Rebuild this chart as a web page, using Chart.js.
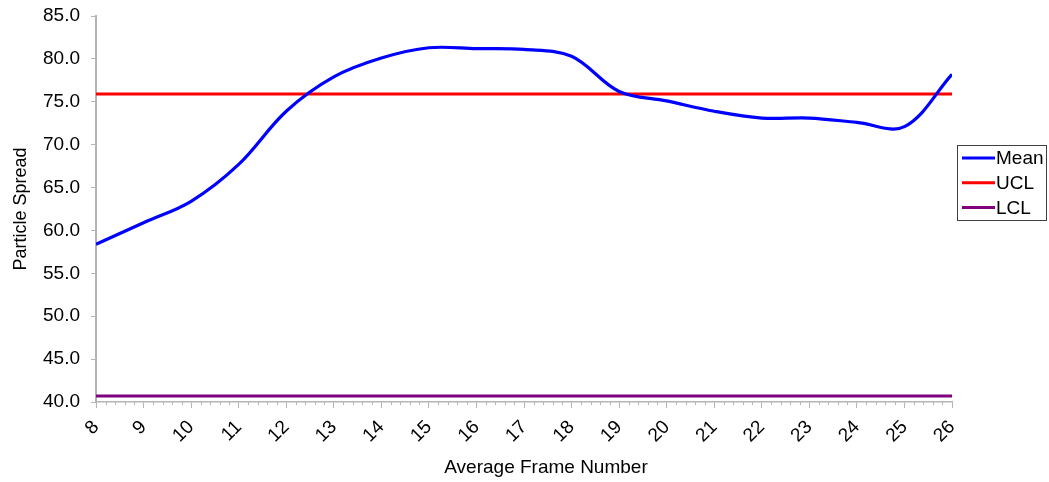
<!DOCTYPE html>
<html>
<head>
<meta charset="utf-8">
<script src="https://cdn.jsdelivr.net/npm/chart.js@4/dist/chart.umd.min.js"></script>
<style>
  html, body { margin: 0; padding: 0; background: #ffffff; }
  #wrap { width: 1049px; height: 482px; }
</style>
</head>
<body>
<div id="wrap"><canvas id="c" width="1049" height="482"></canvas></div>
<script>
// ---- data ----
const frames    = [8, 9, 10, 11, 12, 13, 14, 15, 16, 17, 18, 19, 20, 21, 22, 23, 24, 25, 26];
const meanVals  = [58.4, 60.9, 63.4, 67.7, 73.9, 77.9, 80.1, 81.3, 81.2, 81.1, 80.3, 76.2, 75.1, 73.9, 73.1, 73.1, 72.6, 72.1, 78.2];
const uclValue  = 75.9;
const lclValue  = 40.7;
const seriesNames  = ['Mean', 'UCL', 'LCL'];
const seriesColors = ['#0000ff', '#ff0000', '#800080'];
const yTicks = [40, 45, 50, 55, 60, 65, 70, 75, 80, 85];
const xMin = 8, xMax = 26, minorStep = 0.2;
const xTitle = 'Average Frame Number';
const yTitle = 'Particle Spread';

const FONT = "'Liberation Sans', Arial, sans-serif";
const axisGrey = '#b4b4b4';

const meanData = frames.map((f, i) => ({ x: f, y: meanVals[i] }));
const uclData = [{ x: xMin, y: uclValue }, { x: xMax, y: uclValue }];
const lclData = [{ x: xMin, y: lclValue }, { x: xMax, y: lclValue }];

const minorTicksPlugin = {
  id: 'minorTicks',
  afterDraw(chart) {
    const xs = chart.scales.x;
    const ctx = chart.ctx;
    ctx.save();
    ctx.strokeStyle = axisGrey;
    ctx.lineWidth = 1;
    const n = Math.round((xMax - xMin) / minorStep);
    for (let i = 0; i <= n; i++) {
      const v = xMin + i * minorStep;
      if (Math.abs(v - Math.round(v)) < 1e-6) continue;
      const px = Math.round(xs.getPixelForValue(v)) + 0.5;
      ctx.beginPath();
      ctx.moveTo(px, xs.top);
      ctx.lineTo(px, xs.top + 3);
      ctx.stroke();
    }
    // x axis title (offset to the right, as in the reference)
    ctx.fillStyle = '#000000';
    ctx.font = '19px ' + FONT;
    ctx.textAlign = 'center';
    ctx.textBaseline = 'middle';
    ctx.fillText(xTitle, 546, 468);
    ctx.restore();
  }
};

const boxLegendPlugin = {
  id: 'boxLegend',
  afterDraw(chart) {
    const ctx = chart.ctx;
    const bx = 957.5, by = 145.5, bw = 89, bh = 75;
    ctx.save();
    ctx.fillStyle = '#ffffff';
    ctx.fillRect(bx, by, bw, bh);
    ctx.strokeStyle = '#404040';
    ctx.lineWidth = 1;
    ctx.strokeRect(bx, by, bw, bh);
    ctx.font = '19px ' + FONT;
    ctx.textBaseline = 'middle';
    ctx.textAlign = 'left';
    chart.data.datasets.forEach((ds, i) => {
      const y = 158 + i * 24.7;
      ctx.strokeStyle = ds.borderColor;
      ctx.lineWidth = 3;
      ctx.beginPath();
      ctx.moveTo(962, y);
      ctx.lineTo(995, y);
      ctx.stroke();
      ctx.fillStyle = '#000000';
      ctx.fillText(ds.label, 996, y + 1);
    });
    ctx.restore();
  }
};

new Chart(document.getElementById('c'), {
  type: 'line',
  data: {
    datasets: [
      { label: seriesNames[0], data: meanData, borderColor: seriesColors[0], backgroundColor: seriesColors[0],
        borderWidth: 3.2, pointRadius: 0, tension: 0.35, fill: false },
      { label: seriesNames[1], data: uclData, borderColor: seriesColors[1], backgroundColor: seriesColors[1],
        borderWidth: 3, pointRadius: 0, tension: 0, fill: false },
      { label: seriesNames[2], data: lclData, borderColor: seriesColors[2], backgroundColor: seriesColors[2],
        borderWidth: 3, pointRadius: 0, tension: 0, fill: false }
    ]
  },
  options: {
    responsive: false,
    animation: false,
    events: [],
    layout: { padding: { top: 16, right: 97, bottom: 0, left: 0 } },
    plugins: { legend: { display: false }, tooltip: { enabled: false } },
    scales: {
      x: {
        type: 'linear',
        min: xMin, max: xMax,
        afterFit(s) { s.height = 80; s.paddingLeft = 0; s.paddingRight = 0; },
        border: { display: true, color: axisGrey, width: 1.5 },
        grid: { drawOnChartArea: false, drawTicks: true, tickLength: 6, color: axisGrey, tickColor: axisGrey },
        ticks: {
          stepSize: 1, autoSkip: false, minRotation: 45, maxRotation: 45, padding: 8,
          color: '#000000', font: { family: FONT, size: 19 },
          callback: (v) => String(Math.round(v))
        },
        title: { display: false }
      },
      y: {
        type: 'linear',
        min: 40, max: 85,
        afterFit(s) { s.width = 96; s.paddingTop = 0; s.paddingBottom = 0; },
        afterBuildTicks(s) { s.ticks = yTicks.map(v => ({ value: v })); },
        border: { display: true, color: axisGrey, width: 2 },
        grid: { drawOnChartArea: false, drawTicks: true, tickLength: 5, color: axisGrey, tickColor: axisGrey },
        ticks: {
          padding: 11, color: '#000000', font: { family: FONT, size: 19 },
          callback: (v) => Number(v).toFixed(1)
        },
        title: { display: true, text: yTitle, color: '#000000',
                 font: { family: FONT, size: 18 }, padding: { top: 10, bottom: 0 } }
      }
    }
  },
  plugins: [minorTicksPlugin, boxLegendPlugin]
});
</script>
</body>
</html>
